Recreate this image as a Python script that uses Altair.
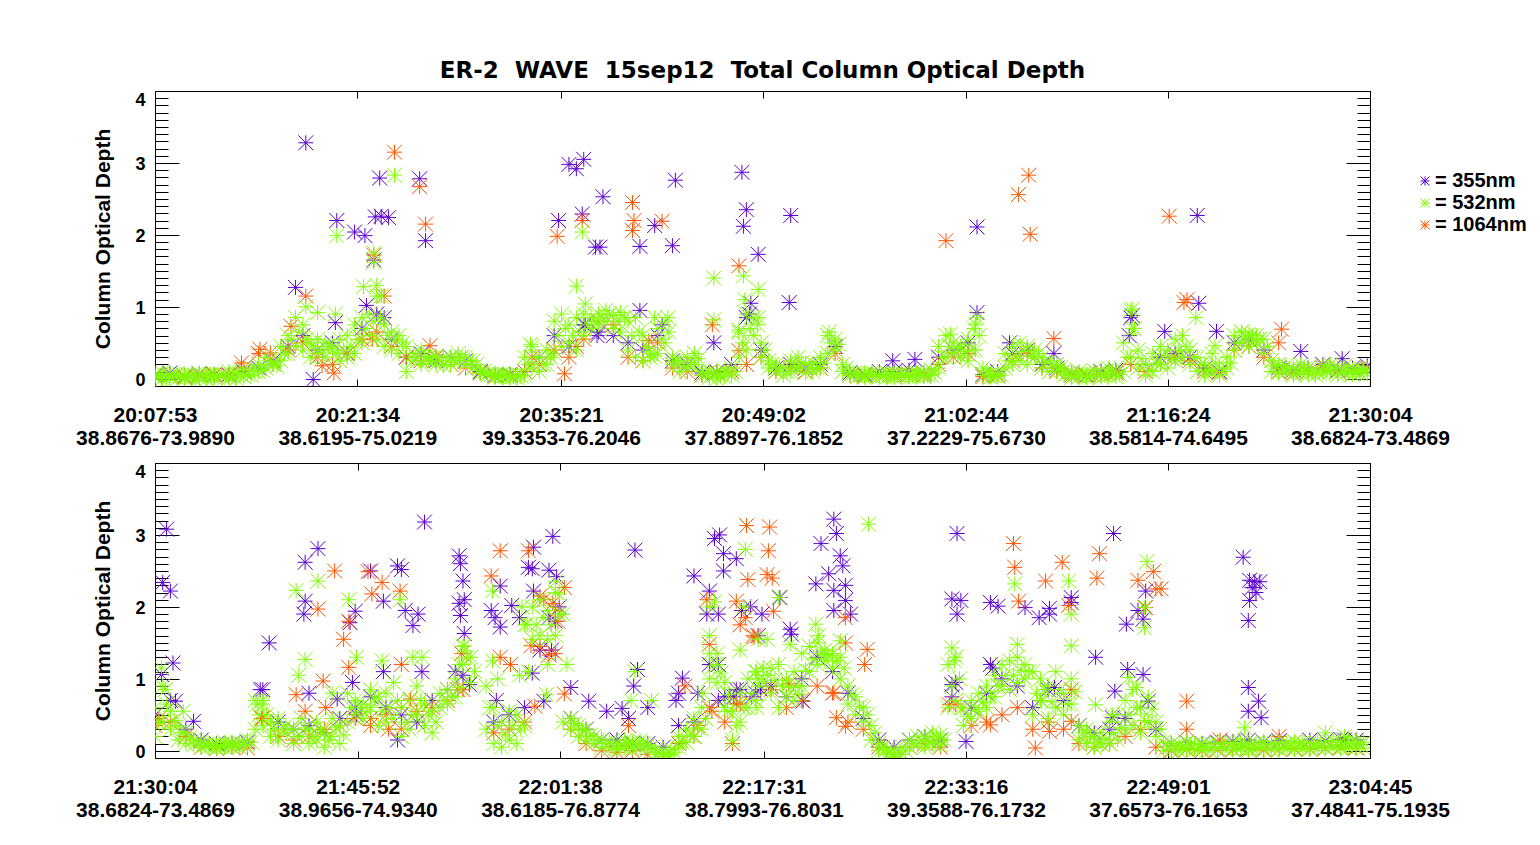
import altair as alt
import pandas as pd

# colours / glyph used by the original IDL plot
PURPLE = "#5a00d2"
GREEN = "#80ff00"
ORANGE = "#ff5500"
STAR = "M0,-1L0,1M-1,0L1,0M-1,-1L1,1M-1,1L1,-1"
LABEL_FONT = "Liberation Sans"
TITLE_FONT = "DejaVu Sans"

BANDS = ["355nm", "532nm", "1064nm"]

# axis tick labels (time + lat-lon)
TOP_TIMES = ["20:07:53", "20:21:34", "20:35:21", "20:49:02", "21:02:44", "21:16:24", "21:30:04"]
TOP_PLACES = ["38.8676-73.9890", "38.6195-75.0219", "39.3353-76.2046", "37.8897-76.1852",
              "37.2229-75.6730", "38.5814-74.6495", "38.6824-73.4869"]
BOT_TIMES = ["21:30:04", "21:45:52", "22:01:38", "22:17:31", "22:33:16", "22:49:01", "23:04:45"]
BOT_PLACES = ["38.6824-73.4869", "38.9656-74.9340", "38.6185-76.8774", "38.7993-76.8031",
              "39.3588-76.1732", "37.6573-76.1653", "37.4841-75.1935"]

# ---------------- top panel (minutes after 20:07:53) ----------------
# 532nm record, sampled every 0.5 min (three members per sample)
TOP_G_STEP = 0.5
TOP_G_LO = [
    0.02, 0.00, 0.03, 0.01, 0.00, 0.02, 0.01, 0.00, 0.02, 0.03, 0.01, 0.00, 0.03, 0.05, 0.10, 0.15, 0.20, 0.25, 0.35, 0.45,
    0.40, 0.30, 0.35, 0.30, 0.40, 0.25, 0.30, 0.35, 0.50, 0.60, 0.55, 0.45, 0.40, 0.35, 0.10, 0.25, 0.20, 0.25, 0.20, 0.18,
    0.20, 0.25, 0.20, 0.15, 0.08, 0.05, 0.02, 0.03, 0.01, 0.02, 0.05, 0.15, 0.10, 0.20, 0.35, 0.45, 0.50, 0.40, 0.60, 0.70,
    0.75, 0.80, 0.70, 0.65, 0.40, 0.30, 0.25, 0.30, 0.35, 0.50, 0.20, 0.10, 0.15, 0.20, 0.05, 0.02, 0.00, 0.03, 0.05, 0.30,
    0.40, 0.60, 0.30, 0.15, 0.10, 0.05, 0.10, 0.15, 0.08, 0.10, 0.15, 0.35, 0.40, 0.10, 0.05, 0.03, 0.02, 0.04, 0.03, 0.02,
    0.02, 0.03, 0.02, 0.04, 0.03, 0.05, 0.15, 0.30, 0.35, 0.30, 0.25, 0.40, 0.05, 0.02, 0.03, 0.15, 0.20, 0.25, 0.20, 0.30,
    0.15, 0.10, 0.12, 0.05, 0.02, 0.03, 0.01, 0.04, 0.02, 0.05, 0.03, 0.10, 0.30, 0.15, 0.05, 0.10, 0.20, 0.15, 0.25, 0.30,
    0.20, 0.10, 0.05, 0.10, 0.05, 0.15, 0.40, 0.50, 0.45, 0.50, 0.35, 0.10, 0.08, 0.10, 0.05, 0.08, 0.06, 0.05, 0.08, 0.10,
    0.05, 0.07, 0.06, 0.08, 0.07]
TOP_G_HI = [
    0.06, 0.08, 0.05, 0.07, 0.04, 0.06, 0.08, 0.05, 0.07, 0.06, 0.10, 0.08, 0.12, 0.15, 0.20, 0.30, 0.22, 0.45, 0.60, 0.85,
    0.75, 0.50, 0.55, 0.50, 0.45, 0.55, 0.60, 0.75, 0.85, 0.90, 1.15, 0.75, 0.65, 0.60, 0.45, 0.35, 0.40, 0.30, 0.32, 0.30,
    0.30, 0.35, 0.30, 0.25, 0.12, 0.08, 0.06, 0.07, 0.05, 0.06, 0.30, 0.45, 0.30, 0.40, 0.80, 0.90, 0.75, 0.85, 0.90, 0.85,
    0.90, 0.95, 0.88, 0.92, 0.80, 0.85, 0.60, 0.35, 0.70, 0.80, 0.30, 0.25, 0.30, 0.35, 0.10, 0.10, 0.08, 0.12, 0.15, 0.65,
    0.90, 0.85, 0.50, 0.25, 0.20, 0.15, 0.25, 0.30, 0.20, 0.22, 0.30, 0.60, 0.55, 0.20, 0.10, 0.08, 0.07, 0.09, 0.06, 0.08,
    0.07, 0.08, 0.06, 0.09, 0.08, 0.12, 0.45, 0.60, 0.50, 0.45, 0.55, 0.75, 0.15, 0.06, 0.07, 0.35, 0.45, 0.50, 0.45, 0.40,
    0.30, 0.25, 0.20, 0.12, 0.08, 0.10, 0.06, 0.12, 0.08, 0.15, 0.10, 0.50, 0.95, 0.40, 0.20, 0.35, 0.45, 0.40, 0.55, 0.60,
    0.40, 0.30, 0.20, 0.35, 0.15, 0.30, 0.60, 0.65, 0.62, 0.60, 0.55, 0.25, 0.20, 0.18, 0.15, 0.20, 0.15, 0.12, 0.18, 0.20,
    0.15, 0.18, 0.12, 0.15, 0.13]
# in-between members, at 0.25 + 0.5*i minutes
TOP_G_MID = [
    0.04, -0.02, 0.06, 0.03, 0.05, -0.03, 0.04, 0.06, 0.02, 0.05, 0.04, 0.07, 0.06, 0.10, 0.12, 0.25, 0.18, 0.35, 0.55, 0.65,
    0.55, 0.45, 0.40, 0.45, 0.35, 0.40, 0.45, 0.55, 0.70, 0.80, 0.85, 0.60, 0.55, 0.50, 0.30, 0.30, 0.30, 0.28, 0.25, 0.25,
    0.25, 0.30, 0.25, 0.20, 0.10, 0.06, 0.04, 0.05, 0.03, 0.04, 0.20, 0.30, 0.20, 0.30, 0.60, 0.70, 0.60, 0.65, 0.75, 0.80,
    0.85, 0.90, 0.80, 0.85, 0.60, 0.65, 0.45, 0.32, 0.55, 0.65, 0.25, 0.18, 0.22, 0.28, 0.08, 0.06, 0.04, 0.08, 0.10, 0.50,
    0.70, 0.75, 0.40, 0.20, 0.15, 0.10, 0.18, 0.22, 0.15, 0.16, 0.22, 0.50, 0.48, 0.15, 0.08, 0.05, 0.05, 0.06, 0.04, 0.05,
    0.05, 0.06, 0.04, 0.06, 0.05, 0.08, 0.30, 0.45, 0.42, 0.38, 0.40, 0.60, 0.10, 0.04, 0.05, 0.25, 0.32, 0.38, 0.32, 0.35,
    0.22, 0.18, 0.16, 0.08, 0.05, 0.06, 0.04, 0.08, 0.05, 0.10, 0.06, 0.30, 0.70, 0.28, 0.12, 0.22, 0.32, 0.28, 0.40, 0.45,
    0.30, 0.20, 0.12, 0.22, 0.10, 0.22, 0.50, 0.58, 0.55, 0.55, 0.45, 0.18, 0.14, 0.14, 0.10, 0.14, 0.10, 0.08, 0.12, 0.15,
    0.10, 0.12, 0.09, 0.11]
# 355nm and 1064nm records, 1 min apart
TOP_PO_STEP = 1.0
TOP_P = [
    0.05, 0.08, 0.04, 0.07, 0.06, 0.05, 0.10, 0.15, 0.25, 0.45,
    0.60, 0.40, 0.50, 0.35, 0.70, 0.90, 0.55, 0.30, 0.35, 0.25,
    0.30, 0.25, 0.10, 0.05, 0.06, 0.10, 0.30, 0.60, 0.45, 0.75,
    0.65, 0.60, 0.50, 0.40, 0.60, 0.25, 0.20, 0.08, 0.10, 0.20,
    0.85, 0.40, 0.15, 0.20, 0.15, 0.20, 0.45, 0.08, 0.06, 0.10,
    0.10, 0.12, 0.08, 0.30, 0.40, 0.50, 0.06, 0.10, 0.35, 0.40,
    0.20, 0.15, 0.08, 0.05, 0.10, 0.12, 0.85, 0.20, 0.30, 0.35,
    0.30, 0.15, 0.10, 0.50, 0.55, 0.40, 0.15, 0.12, 0.15, 0.20,
    0.12, 0.15, 0.18]
TOP_O = [
    0.03, 0.05, 0.02, 0.04, 0.05, 0.06, 0.15, 0.35, 0.20, 0.40,
    0.50, 0.30, 0.20, 0.35, 0.55, 0.65, 0.45, 0.30, 0.25, 0.30,
    0.20, 0.15, 0.08, 0.03, 0.04, 0.10, 0.20, 0.40, 0.30, 0.55,
    0.80, 0.75, 0.30, 0.25, 0.50, 0.15, 0.10, 0.05, 0.08, 0.10,
    0.20, 0.30, 0.10, 0.15, 0.10, 0.15, 0.35, 0.05, 0.04, 0.06,
    0.05, 0.06, 0.05, 0.20, 0.30, 0.35, 0.03, 0.05, 0.25, 0.35,
    0.15, 0.10, 0.05, 0.04, 0.06, 0.08, 0.20, 0.10, 0.20, 0.30,
    0.25, 0.10, 0.08, 0.40, 0.45, 0.30, 0.10, 0.08, 0.10, 0.15,
    0.10, 0.12, 0.15]
# isolated points (minutes, optical depth)
TOP_P_OUT = [
    (9.5, 1.27), (10.2, 3.28), (12.3, 2.20), (13.5, 2.04), (14.2, 1.99), (14.3, 1.02), (15.5, 0.85), (15.2, 2.79),
    (14.9, 2.25), (15.3, 2.26), (15.8, 2.24), (14.8, 1.65), (17.9, 2.78), (18.3, 1.92), (10.7, -0.01), (12.2, 0.78),
    (27.3, 2.20), (28.0, 2.98), (28.5, 2.92), (29.0, 3.05), (28.9, 2.29), (29.1, 0.75), (30.3, 2.53), (29.8, 1.83),
    (30.1, 1.83), (29.9, 0.60), (32.8, 1.84), (33.8, 2.13), (35.0, 1.85), (35.2, 2.76), (32.8, 0.95), (34.3, 0.75),
    (37.8, 0.50), (39.7, 2.87), (40.0, 2.35), (39.8, 2.12), (40.8, 1.73), (40.3, 1.05), (40.2, 0.90), (43.0, 2.27),
    (42.9, 1.06), (49.9, 0.25), (51.4, 0.27), (55.6, 0.92), (55.6, 2.11), (57.8, 0.50), (60.8, 0.35), (66.1, 0.88),
    (65.9, 0.60), (68.3, 0.66), (70.6, 1.05), (70.5, 2.27), (71.8, 0.66), (77.5, 0.38), (80.3, 0.28)]
TOP_O_OUT = [
    (5.85, 0.22), (7.1, 0.41), (7.8, 0.36), (10.2, 1.15), (9.2, 0.73), (11.3, 0.18), (12.1, 0.08), (15.5, 1.15),
    (14.8, 1.72), (16.2, 3.15), (14.7, 0.55), (17.9, 2.67), (18.3, 2.15), (18.6, 0.46), (25.5, 0.30), (27.2, 1.98),
    (28.9, 2.20), (28.5, 0.45), (27.7, 0.07), (32.3, 2.45), (32.4, 2.20), (32.3, 2.06), (34.3, 2.19), (33.4, 0.53),
    (37.7, 0.75), (39.5, 1.57), (39.5, 0.39), (53.5, 1.92), (58.4, 2.56), (59.1, 2.83), (59.2, 2.01), (60.8, 0.56),
    (68.6, 2.26), (69.6, 1.06), (69.8, 1.10), (76.2, 0.69), (76.0, 0.50)]
TOP_G_OUT = [
    (10.2, 1.00), (11.0, 0.92), (12.2, 0.90), (12.3, 1.99), (14.1, 1.28), (15.0, 1.30), (15.3, 1.15), (14.8, 1.62),
    (14.8, 1.75), (16.2, 2.83), (25.4, 0.48), (28.5, 1.29), (28.9, 2.04), (29.1, 1.04), (33.8, 0.85), (34.7, 0.85),
    (37.8, 1.40), (37.8, 0.82), (39.8, 1.43), (40.8, 1.24), (39.9, 1.10), (40.8, 0.85), (39.5, 0.68), (45.6, 0.65),
    (53.8, 0.62), (55.6, 0.85), (55.4, 0.70), (66.1, 0.97), (66.1, 0.70), (70.4, 0.85), (71.7, 0.46), (73.5, 0.65),
    (74.2, 0.60)]

# ---------------- bottom panel (minutes after 21:30:04) ----------------
BOT_G_STEP = 0.6
BOT_G_LO = [
    0.20, 0.40, 0.30, 0.15, 0.10, 0.08, 0.05, 0.06, 0.04, 0.05,
    0.06, 0.05, 0.08, 0.30, 0.35, 0.20, 0.15, 0.25, 0.10, 0.20,
    0.10, 0.15, 0.05, 0.20, 0.10, 0.40, 0.50, 0.45, 0.60, 0.35,
    0.40, 0.45, 0.20, 0.30, 0.50, 0.35, 0.25, 0.60, 0.65, 0.75,
    1.20, 0.95, None, 0.30, 0.10, 0.05, 0.15, 0.10, 0.35, 1.55,
    1.60, 1.55, 1.60, 0.40, 0.30, 0.20, 0.15, 0.10, 0.05, 0.03,
    0.02, 0.05, 0.03, 0.06, 0.02, -0.05, -0.08, -0.06, 0.05, 0.12,
    0.20, 0.30, 1.00, 0.95, 0.60, 0.15, 0.40, 0.60, 0.70, 0.95,
    0.80, 0.60, 0.75, 0.70, 0.90, 1.10, 1.20, 1.25, 1.15, 1.00,
    0.65, 0.50, 0.40, 0.15, 0.00, -0.05, -0.08, -0.05, 0.05, 0.08,
    0.05, 0.10, 0.08, 0.60, 0.70, 0.35, 0.45, 0.55, 0.60, 0.75,
    0.90, 0.85, 0.95, 1.00, 0.50, 0.70, 0.45, 0.60, 0.50, 0.65,
    0.15, 0.10, 0.05, 0.08, 0.10, 0.15, 0.30, 0.35, 0.25, 0.40,
    0.20, 0.00, 0.02, 0.00, 0.03, 0.01, 0.02, 0.00, 0.03, 0.02,
    0.01, 0.03, 0.00, 0.02, 0.03, 0.01, 0.02, 0.04, 0.02, 0.03,
    0.02, 0.04, 0.03, 0.05, 0.03, 0.04, 0.05, 0.03]
BOT_G_HI = [
    0.60, 0.90, 0.55, 0.35, 0.25, 0.15, 0.12, 0.10, 0.08, 0.12,
    0.10, 0.12, 0.15, 0.70, 0.65, 0.40, 0.45, 0.35, 0.30, 0.45,
    0.30, 0.40, 0.25, 0.45, 0.35, 0.80, 0.70, 0.65, 0.85, 0.75,
    0.80, 0.95, 0.60, 0.70, 0.90, 0.65, 0.55, 0.80, 0.85, 1.00,
    1.45, 1.30, None, 0.90, 0.60, 0.40, 0.55, 0.50, 1.75, 2.00,
    2.10, 1.95, 2.20, 1.90, 0.45, 0.35, 0.30, 0.20, 0.15, 0.12,
    0.10, 0.15, 0.12, 0.14, 0.08, 0.02, -0.02, 0.02, 0.20, 0.30,
    0.45, 0.60, 1.35, 1.20, 0.95, 0.55, 0.80, 1.00, 1.10, 1.15,
    1.15, 1.20, 1.00, 1.10, 1.35, 1.45, 1.50, 1.40, 1.35, 1.30,
    0.90, 0.75, 0.60, 0.35, 0.10, 0.02, -0.02, 0.05, 0.15, 0.20,
    0.20, 0.25, 0.22, 1.20, 1.30, 0.60, 0.70, 0.80, 0.90, 1.05,
    1.20, 1.25, 1.30, 1.20, 1.10, 1.00, 0.90, 1.10, 0.80, 1.00,
    0.35, 0.30, 0.20, 0.25, 0.40, 0.50, 0.70, 0.85, 0.60, 0.75,
    0.40, 0.12, 0.10, 0.08, 0.12, 0.10, 0.09, 0.11, 0.10, 0.12,
    0.10, 0.12, 0.09, 0.11, 0.13, 0.10, 0.12, 0.10, 0.13, 0.11,
    0.12, 0.10, 0.13, 0.14, 0.12, 0.15, 0.13, 0.12]
# in-between members, at 0.3 + 0.6*i minutes
BOT_G_MID = [
    0.40, 0.65, 0.42, 0.25, 0.18, 0.12, 0.08, 0.08, 0.06, 0.08,
    0.08, 0.09, 0.12, 0.50, 0.50, 0.30, 0.30, 0.30, 0.20, 0.32,
    0.20, 0.28, 0.15, 0.32, 0.22, 0.60, 0.60, 0.55, 0.72, 0.55,
    0.60, 0.70, 0.40, 0.50, 0.70, 0.50, 0.40, 0.70, 0.75, 0.88,
    1.30, 1.10, None, 0.60, 0.35, 0.22, 0.35, 0.30, 1.10, 1.75,
    1.85, 1.75, 1.90, 1.20, 0.38, 0.28, 0.22, 0.15, 0.10, 0.08,
    0.06, 0.10, 0.08, 0.10, 0.05, -0.02, -0.05, -0.02, 0.12, 0.22,
    0.32, 0.45, 1.18, 1.08, 0.78, 0.35, 0.60, 0.80, 0.90, 1.05,
    0.98, 0.90, 0.88, 0.90, 1.12, 1.28, 1.35, 1.32, 1.25, 1.15,
    0.78, 0.62, 0.50, 0.25, 0.05, -0.02, -0.05, 0.00, 0.10, 0.14,
    0.12, 0.18, 0.15, 0.90, 1.00, 0.48, 0.58, 0.68, 0.75, 0.90,
    1.05, 1.05, 1.12, 1.10, 0.80, 0.85, 0.68, 0.85, 0.65, 0.82,
    0.25, 0.20, 0.12, 0.16, 0.25, 0.32, 0.50, 0.60, 0.42, 0.58,
    0.30, 0.06, 0.06, 0.04, 0.08, 0.05, 0.06, 0.05, 0.06, 0.07,
    0.05, 0.08, 0.04, 0.06, 0.08, 0.05, 0.07, 0.07, 0.08, 0.07,
    0.07, 0.07, 0.08, 0.09, 0.08, 0.10, 0.09]
BOT_PO_STEP = 1.2
BOT_P = [
    0.50, 0.70, 0.30, 0.15, 0.10,
    0.10, 0.12, 0.85, 0.40, 0.30,
    0.35, 0.25, 0.45, 0.60, 0.75,
    0.60, 0.50, 0.40, 0.70, 0.85,
    1.05, None, 0.40, 0.50, 0.60,
    1.40, 1.80, 0.45, 0.30, 0.15,
    0.15, 0.10, 0.10, 0.05, 0.35,
    0.40, 1.20, 0.75, 0.85, 0.80,
    0.90, 0.75, 1.00, 1.30, 1.10,
    0.80, 0.45, 0.15, 0.05, 0.15,
    0.20, 0.15, 0.95, 0.60, 0.80,
    1.00, 0.90, 0.60, 0.85, 0.70,
    0.35, 0.25, 0.30, 0.45, 0.60,
    0.30, 0.10, 0.12, 0.10, 0.12,
    0.13, 0.15, 0.12, 0.14, 0.13,
    0.15, 0.14, 0.16, 0.15]
BOT_O = [
    0.35, 0.40, 0.20, 0.05, 0.03,
    0.05, 0.04, 0.45, 0.20, 0.15,
    0.20, 0.30, 0.35, 0.45, 0.35,
    0.50, 0.30, 0.55, 0.60, 0.70,
    0.85, None, 0.25, 0.30, 0.40,
    1.45, 1.35, 0.30, 0.10, 0.00,
    -0.02, 0.00, -0.05, -0.08, 0.10,
    0.20, 0.60, 0.40, 0.65, 0.70,
    0.85, 0.60, 0.70, 0.90, 0.80,
    0.40, 0.30, 0.05, -0.05, 0.05,
    0.10, 0.05, 0.65, 0.35, 0.40,
    0.50, 0.60, 0.30, 0.40, 0.30,
    0.10, 0.05, 0.10, 0.20, 0.30,
    0.05, 0.00, 0.02, 0.00, 0.01,
    0.02, 0.03, 0.01, 0.02, 0.03,
    0.03, 0.04, 0.05, 0.04]
BOT_P_OUT = [
    (0.9, 3.08), (0.6, 2.34), (1.2, 2.22), (1.4, 1.22), (0.5, 1.06), (1.6, 0.69), (3.0, 0.41), (8.2, 0.85),
    (8.9, 1.50), (11.7, 2.62), (12.7, 2.81), (11.7, 2.08), (11.6, 1.90), (12.0, 0.80), (14.2, 0.72), (15.2, 1.78),
    (15.6, 1.94), (16.8, 2.50), (17.8, 2.08), (18.9, 2.57), (19.2, 2.52), (19.5, 1.95), (20.1, 1.74), (20.5, 1.90),
    (21.0, 3.18), (20.8, 1.10), (17.8, 1.10), (15.4, 0.95), (15.7, 0.50), (18.9, 0.15), (23.7, 2.71), (23.8, 2.60),
    (24.0, 2.36), (23.7, 2.05), (24.1, 2.10), (23.8, 1.88), (24.1, 1.63), (24.5, 0.92), (23.4, 1.10), (26.9, 2.29),
    (26.2, 1.95), (26.5, 1.85), (26.9, 1.72), (27.8, 2.02), (28.4, 1.85), (26.6, 0.70), (29.4, 1.08), (30.3, 0.69),
    (29.5, 2.83), (29.1, 2.55), (29.4, 2.53), (29.5, 2.22), (31.0, 2.98), (30.7, 2.51), (31.3, 2.42), (31.5, 2.00),
    (30.7, 1.85), (30.9, 1.40), (32.4, 0.88), (33.8, 0.69), (35.2, 0.55), (36.4, 0.59), (37.6, 1.13), (37.3, 0.90),
    (37.4, 2.79), (38.4, 0.60), (36.9, 0.45), (41.1, 1.01), (40.8, 0.80), (40.6, 0.70), (42.3, 0.80), (42.0, 2.43),
    (43.6, 2.95), (44.0, 3.00), (44.3, 2.74), (44.3, 2.50), (43.2, 2.22), (43.0, 1.90), (43.9, 1.90), (43.9, 1.20),
    (43.9, 0.70), (45.3, 0.85), (45.1, 0.75), (45.3, 2.67), (45.7, 1.95), (47.0, 1.60), (46.4, 2.00), (47.3, 1.90),
    (47.2, 0.85), (46.5, 0.75), (48.7, 2.13), (49.5, 1.69), (49.6, 1.62), (50.5, 0.69), (51.9, 2.88), (52.9, 3.22),
    (53.1, 3.02), (53.4, 2.71), (53.6, 2.57), (51.5, 2.32), (52.5, 2.46), (52.9, 2.23), (53.8, 2.30), (53.8, 2.09),
    (54.2, 1.90), (52.9, 1.95), (62.1, 2.11), (62.8, 2.09), (62.5, 1.90), (62.5, 3.02), (62.1, 0.92), (62.1, 0.75),
    (63.2, 0.13), (65.1, 2.06), (65.7, 2.01), (65.1, 1.20), (65.3, 1.15), (67.8, 1.99), (68.9, 1.85), (69.7, 1.98),
    (69.7, 1.90), (71.4, 2.13), (71.4, 2.06), (70.1, 0.88), (74.7, 3.02), (73.3, 1.30), (74.6, 0.46), (75.7, 1.76),
    (77.2, 2.22), (76.6, 1.95), (77.0, 1.83), (75.8, 1.13), (77.0, 1.06), (74.8, 0.83), (77.4, 0.69), (84.8, 2.69),
    (85.3, 2.37), (85.7, 2.35), (86.1, 2.35), (85.5, 2.27), (85.8, 2.20), (85.3, 2.09), (85.2, 1.81), (85.2, 0.88),
    (86.0, 0.69), (85.2, 0.55), (86.2, 0.46), (92.7, 0.15)]
BOT_O_OUT = [
    (0.3, 0.45), (8.3, 0.45), (11.0, 0.78), (11.7, 0.55), (12.7, 1.97), (13.1, 0.97), (14.0, 2.50), (13.3, 0.60),
    (14.7, 1.55), (15.1, 1.16), (15.1, 1.80), (16.6, 2.49), (16.9, 2.18), (17.7, 2.34), (19.1, 2.22), (19.2, 1.20),
    (16.8, 0.45), (18.2, 0.30), (19.2, 0.60), (19.9, 0.72), (23.9, 1.35), (23.6, 0.85), (26.9, 2.78), (26.2, 2.43),
    (26.9, 1.30), (27.7, 1.20), (29.1, 2.78), (30.3, 2.10), (30.0, 2.15), (31.9, 2.27), (31.0, 2.05), (31.2, 1.95),
    (31.4, 1.80), (29.3, 1.46), (30.7, 1.33), (29.6, 0.62), (31.9, 0.79), (36.9, 0.35), (41.3, 0.90), (42.3, 0.35),
    (43.4, 0.55), (43.0, 2.10), (43.2, 1.48), (45.3, 0.65), (45.0, 0.10), (45.3, 2.08), (45.6, 1.75), (46.0, 1.85),
    (46.7, 1.58), (46.1, 3.13), (47.9, 3.11), (47.8, 2.78), (47.7, 2.45), (46.2, 2.38), (48.1, 2.40), (48.2, 1.94),
    (46.6, 1.60), (49.4, 0.93), (53.8, 1.85), (53.8, 1.50), (52.9, 0.81), (53.1, 0.46), (53.8, 0.34), (55.5, 1.41),
    (55.3, 1.20), (61.9, 0.64), (65.1, 0.36), (66.9, 2.88), (67.0, 2.55), (67.3, 2.08), (69.4, 2.36), (70.7, 2.62),
    (71.2, 2.02), (71.4, 0.85), (71.4, 0.41), (69.7, 0.27), (68.6, 0.04), (73.6, 2.74), (73.4, 2.40), (76.6, 2.37),
    (77.8, 2.49), (78.0, 2.25), (78.4, 2.25), (77.2, 1.99), (80.4, 0.69), (80.4, 0.30), (87.6, 0.20), (83.0, 0.15)]
BOT_G_OUT = [
    (0.5, 1.15), (0.8, 0.85), (2.2, 0.55), (8.4, 0.70), (8.0, 0.65), (11.0, 2.23), (12.7, 2.36), (11.7, 1.27),
    (11.2, 1.05), (13.8, 0.80), (15.1, 2.10), (15.7, 1.30), (17.7, 1.25), (19.1, 2.10), (20.1, 1.30), (20.8, 1.30),
    (24.1, 1.46), (23.7, 1.20), (26.3, 2.22), (26.3, 1.25), (26.7, 1.00), (28.4, 1.05), (28.6, 2.00), (30.5, 0.78),
    (29.0, 1.76), (31.2, 2.35), (31.5, 2.18), (30.6, 1.20), (37.4, 1.10), (37.1, 0.70), (38.7, 0.70), (42.7, 0.80),
    (43.2, 2.00), (43.6, 2.07), (43.2, 1.60), (43.8, 1.35), (44.6, 0.55), (45.6, 1.40), (45.9, 2.00), (46.0, 2.80),
    (47.7, 1.55), (47.0, 1.55), (46.9, 1.10), (47.0, 1.00), (46.9, 0.60), (48.6, 2.13), (49.5, 1.48), (50.2, 0.78),
    (51.5, 1.76), (51.7, 1.60), (52.3, 1.34), (53.4, 1.53), (55.6, 3.15), (62.1, 1.43), (62.3, 1.25), (62.8, 0.60),
    (67.0, 2.32), (67.2, 1.48), (71.2, 2.36), (71.4, 1.90), (71.4, 1.46), (69.1, 0.69), (73.3, 0.64), (74.6, 0.50),
    (77.3, 2.63), (77.1, 1.99), (77.1, 1.71), (75.9, 1.02), (76.5, 0.88), (84.9, 0.32), (91.2, 0.25), (92.7, 0.20)]


def minutes(hms):
    h, m, s = [int(p) for p in hms.split(":")]
    return h * 60 + m + s / 60


def sampled(vals, step, name, start=0.0):
    return [(start + i * step, v, name) for i, v in enumerate(vals) if v is not None]


def scattered(pairs, name):
    return [(t, v, name) for t, v in pairs]


def panel_frame(p, p_step, p_out, o, o_out, g_lo, g_mid, g_hi, g_step, g_out):
    # draw order: 355nm first, then 1064nm, 532nm on top
    rows = (sampled(p, p_step, "355nm") + scattered(p_out, "355nm")
            + sampled(o, p_step, "1064nm") + scattered(o_out, "1064nm")
            + sampled(g_lo, g_step, "532nm") + sampled(g_mid, g_step, "532nm", g_step / 2)
            + sampled(g_hi, g_step, "532nm") + scattered(g_out, "532nm"))
    return pd.DataFrame(rows, columns=["t", "aod", "band"])


def label_expr(vals, times, places):
    expr = ""
    for i in range(len(vals) - 1):
        mid = (vals[i] + vals[i + 1]) / 2
        expr += f"datum.value < {mid:.3f} ? ['{times[i]}', '{places[i]}'] : "
    return expr + f"['{times[-1]}', '{places[-1]}']"


def make_panel(df, times, places, legend, title=None):
    t0 = minutes(times[0])
    tick_vals = [round(minutes(s) - t0, 4) for s in times]
    xs = alt.Scale(domain=[0, tick_vals[-1]], nice=False, zero=False)
    ys = alt.Scale(domain=[-0.1, 4], nice=False, zero=False)
    color = alt.Color("band:N", scale=alt.Scale(domain=BANDS, range=[PURPLE, GREEN, ORANGE]),
                      legend=legend)

    points = alt.Chart(df).mark_point(
        shape=STAR, filled=False, size=225, strokeWidth=1, opacity=1, clip=True
    ).encode(
        x=alt.X("t:Q", scale=xs, axis=alt.Axis(
            values=tick_vals, labelExpr=label_expr(tick_vals, times, places),
            ticks=False, tickSize=0, domain=False, grid=False, title=None,
            labelFont=LABEL_FONT, labelFontSize=21, labelFontWeight="bold", labelColor="black",
            labelPadding=18.5, labelLineHeight=23, labelAngle=0, labelFlush=False, labelOverlap=False)),
        y=alt.Y("aod:Q", scale=ys, axis=alt.Axis(
            values=[0, 1, 2, 3, 4], ticks=False, tickSize=0, domain=False, grid=False,
            labelFont=LABEL_FONT, labelFontSize=18, labelFontWeight="bold", labelColor="black",
            labelPadding=10, labelFlush=False, labelOverlap=False,
            labelOffset={"condition": {"test": "datum.value === 4", "value": 9}, "value": 2},
            title="Column Optical Depth", titleFont=LABEL_FONT, titleFontSize=21,
            titleFontWeight="bold", titleColor="black", titlePadding=21)),
        color=color,
    )

    # inward tick marks, drawn by extra axes pulled inside the frame
    tick_df = pd.DataFrame({"t": [0.0], "aod": [0.0]})
    minor = [round(i * 0.1, 1) for i in range(41)]

    def ticks(x_axis, y_axis):
        return alt.Chart(tick_df).mark_point(opacity=0).encode(
            x=alt.X("t:Q", scale=xs, axis=x_axis),
            y=alt.Y("aod:Q", scale=ys, axis=y_axis))

    def tick_axis(orient, size, values):
        return alt.Axis(orient=orient, offset=-size, tickSize=size, values=values, labels=False,
                        domain=False, grid=False, title=None, tickColor="black", tickWidth=1)

    layers = [
        points,
        ticks(tick_axis("top", 7, tick_vals), tick_axis("left", 24, [0, 1, 2, 3, 4])),
        ticks(tick_axis("bottom", 7, tick_vals), tick_axis("left", 13, minor)),
        ticks(None, tick_axis("right", 24, [0, 1, 2, 3, 4])),
        ticks(None, tick_axis("right", 13, minor)),
    ]
    props = dict(width=1215, height=295)
    if title is not None:
        props["title"] = title
    return alt.layer(*layers).resolve_axis(x="independent", y="independent").properties(**props)


top_df = panel_frame(TOP_P, TOP_PO_STEP, TOP_P_OUT, TOP_O, TOP_O_OUT,
                     TOP_G_LO, TOP_G_MID, TOP_G_HI, TOP_G_STEP, TOP_G_OUT)
bot_df = panel_frame(BOT_P, BOT_PO_STEP, BOT_P_OUT, BOT_O, BOT_O_OUT,
                     BOT_G_LO, BOT_G_MID, BOT_G_HI, BOT_G_STEP, BOT_G_OUT)

# the legend sits against the right edge of the page, as in the original
legend = alt.Legend(
    orient="none", legendX=1260, legendY=80, title=None, padding=0,
    symbolType=STAR, symbolSize=81, symbolStrokeWidth=1,
    labelFont=LABEL_FONT, labelFontSize=20, labelFontWeight="bold", labelColor="black",
    labelExpr="'= ' + datum.label", labelOffset=0, labelLimit=100, rowPadding=2)

title = alt.TitleParams(
    "ER-2\u00a0\u00a0WAVE\u00a0\u00a015sep12\u00a0\u00a0Total Column Optical Depth",
    font=TITLE_FONT, fontSize=23, fontWeight="bold", color="black", anchor="middle", offset=8)

top = make_panel(top_df, TOP_TIMES, TOP_PLACES, legend, title)
bottom = make_panel(bot_df, BOT_TIMES, BOT_PLACES, None)

chart = alt.vconcat(top, bottom, spacing=77, bounds="flush").resolve_legend(
    color="independent"
).properties(
    padding={"left": 67, "top": 51, "right": 0, "bottom": 5},
    background="white",
).configure_view(stroke="black", strokeWidth=1)

chart.save("out.html", embed_options={"renderer": "svg", "actions": False})
